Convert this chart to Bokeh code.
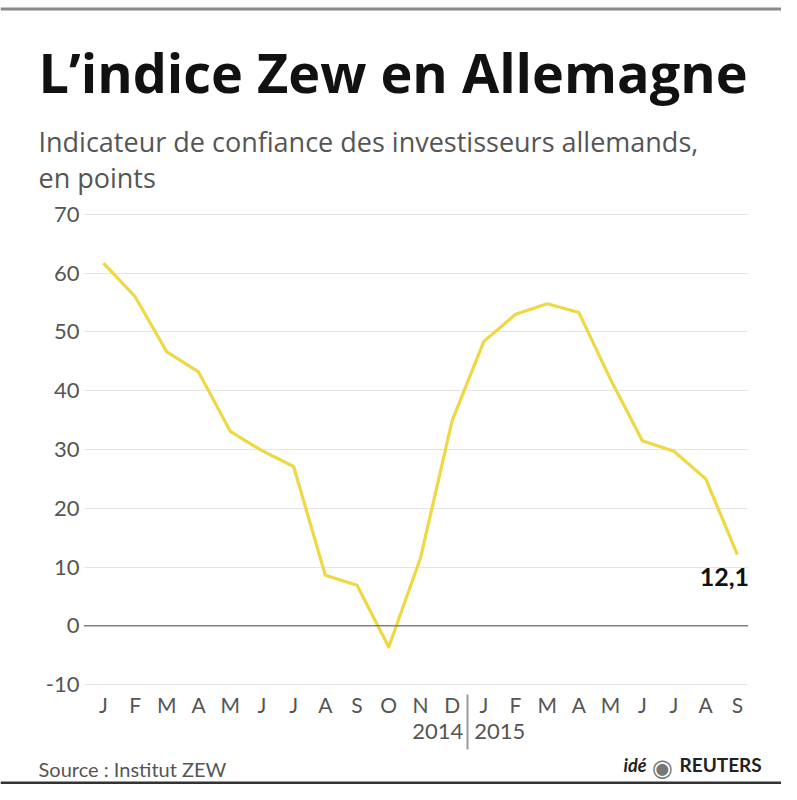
from bokeh.plotting import figure
from bokeh.layouts import column
from bokeh.models import (FixedTicker, Label, Span, BoxAnnotation, Range1d, LinearAxis)
from bokeh.embed import file_html
from bokeh.resources import INLINE

# ---- data ----
month_labels = ["J", "F", "M", "A", "M", "J", "J", "A", "S", "O", "N", "D",
                "J", "F", "M", "A", "M", "J", "J", "A", "S"]
zew_values = [61.7, 56.0, 46.6, 43.2, 33.1, 29.8, 27.1, 8.6, 6.9, -3.6, 11.5, 34.9,
              48.4, 53.0, 54.8, 53.3, 41.9, 31.5, 29.7, 25.0, 12.1]
y_ticks = [-10, 0, 10, 20, 30, 40, 50, 60, 70]
years = ["2014", "2015"]
last_label = "12,1"
title_text = "L\u2019indice Zew en Allemagne"
subtitle_1 = "Indicateur de confiance des investisseurs allemands,"
subtitle_2 = "en points"
source_text = "Source : Institut ZEW"

x_idx = list(range(len(zew_values)))
year_break = 11.5                      # between D 2014 and J 2015
year_ticks = [year_break - 0.95, year_break + 1.0]

FONT = "Lato"
SUBFONT = "Open Sans"
GREY = "#555555"
W = 781
HEAD_H = 198
CHART_BOTTOM = 750
TOTAL_H = 784
CHART_H = CHART_BOTTOM - HEAD_H
FOOT_H = TOTAL_H - CHART_BOTTOM

def bare(h):
    f = figure(width=W, height=h, output_backend="svg", toolbar_location=None,
               x_axis_location=None, y_axis_location=None, frame_align=False,
               min_border=0, x_range=Range1d(0, 1), y_range=Range1d(0, 1))
    f.outline_line_color = None
    f.grid.visible = False
    return f

def slab(f, top, h, fx, fy, text, **kw):
    # fx, fy: page pixel position of the text anchor; top: page y of figure top
    f.add_layout(Label(x=fx, y=h - (fy - top), x_units="screen", y_units="screen", text=text,
                       text_baseline="alphabetic", **kw))

def rule(f, h, top, y0, y1, color):
    f.add_layout(BoxAnnotation(left=0, right=W, top=h - (y0 - top), bottom=h - (y1 - top),
                               left_units="screen", right_units="screen",
                               top_units="screen", bottom_units="screen",
                               fill_color=color, fill_alpha=1, line_color=None))

# ---- header ----
head = bare(HEAD_H)
rule(head, HEAD_H, 0, 7, 10, "#8a8a8a")
slab(head, 0, HEAD_H, 38, 71, title_text, text_font=SUBFONT, text_font_style="bold",
     text_font_size="54px", text_color="#111111")
slab(head, 0, HEAD_H, 38, 141, subtitle_1, text_font=SUBFONT, text_font_size="27px",
     text_color=GREY)
slab(head, 0, HEAD_H, 38, 177, subtitle_2, text_font=SUBFONT, text_font_size="27px",
     text_color=GREY)

# ---- chart ----
FL, FR, FT, FB = 83, 748, 211 - HEAD_H, 687 - HEAD_H
p = figure(width=W, height=CHART_H, output_backend="svg", toolbar_location=None,
           frame_align=False,
           x_range=Range1d(-0.63, 20.35), y_range=Range1d(-10.5, 70.5),
           min_border_left=FL, min_border_right=W - FR,
           min_border_top=FT, min_border_bottom=CHART_H - FB)
p.outline_line_color = None

p.yaxis.ticker = FixedTicker(ticks=y_ticks)
p.yaxis.major_label_overrides = {t: str(t) for t in y_ticks}
p.yaxis.axis_line_color = None
p.yaxis.major_tick_line_color = None
p.yaxis.minor_tick_line_color = None
p.yaxis.major_tick_out = 0
p.yaxis.major_label_standoff = 4
p.yaxis.major_label_text_font = FONT
p.yaxis.major_label_text_font_size = "22px"
p.yaxis.major_label_text_color = GREY

p.xaxis.ticker = FixedTicker(ticks=x_idx)
p.xaxis.major_label_overrides = {i: m for i, m in enumerate(month_labels)}
p.xaxis.axis_line_color = None
p.xaxis.major_tick_line_color = None
p.xaxis.minor_tick_line_color = None
p.xaxis.major_tick_out = 0
p.xaxis.major_tick_in = 0
p.xaxis.minor_tick_out = 0
p.xaxis.major_label_standoff = 4
p.xaxis.major_label_text_font = FONT
p.xaxis.major_label_text_font_size = "21px"
p.xaxis.major_label_text_color = GREY

yax = LinearAxis(ticker=FixedTicker(ticks=year_ticks, minor_ticks=[year_break]),
                 major_label_overrides={year_ticks[0]: years[0], year_ticks[1]: years[1]},
                 axis_line_color=None, major_tick_line_color=None,
                 minor_tick_line_color="#9a9a9a", minor_tick_line_width=2,
                 minor_tick_in=25, minor_tick_out=30,
                 major_tick_out=0, major_tick_in=0, major_label_standoff=-26,
                 major_label_text_font=FONT, major_label_text_font_size="22px",
                 major_label_text_color=GREY)
p.add_layout(yax, "below")

p.xgrid.grid_line_color = None
p.ygrid.ticker = FixedTicker(ticks=y_ticks)
p.ygrid.grid_line_color = "#e4e4e4"
p.ygrid.grid_line_width = 1.2
p.add_layout(Span(location=0, dimension="width", line_color="#808080", line_width=1.6))

p.line(x_idx, zew_values, line_color="#eed843", line_width=3.2, line_join="round")

p.add_layout(Label(x=x_idx[-1], y=zew_values[-1], text=last_label, x_offset=-13, y_offset=-22,
                   text_align="center", text_baseline="alphabetic", text_font=FONT,
                   text_font_style="bold", text_font_size="25px", text_color="#111111"))

# ---- footer ----
foot = bare(FOOT_H)
T = CHART_BOTTOM
slab(foot, T, FOOT_H, 38, 768, source_text, text_font=FONT, text_font_size="20px",
     text_color=GREY)
slab(foot, T, FOOT_H, 646, 764, "id\u00e9", text_font=FONT, text_font_style="bold italic",
     text_font_size="18px", text_color="#222222", text_align="right")
slab(foot, T, FOOT_H, 662, 767, "\u25c9", text_font="DejaVu Sans", text_font_size="24px",
     text_color="#777777", text_align="center")
slab(foot, T, FOOT_H, 679, 764, "REUTERS", text_font=FONT, text_font_style="bold",
     text_font_size="19px", text_color="#222222")
rule(foot, FOOT_H, T, 781, 784, "#333333")

layout = column(head, p, foot, spacing=0)
open("out.html", "w").write(file_html(layout, INLINE))
